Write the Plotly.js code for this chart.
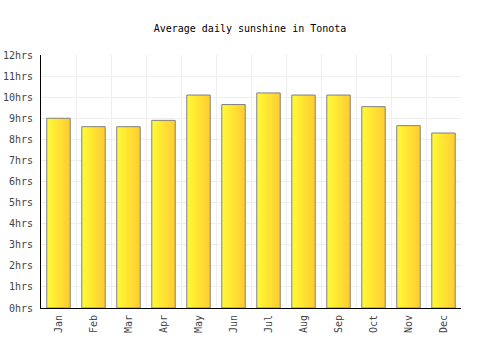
<!DOCTYPE html>
<html>
<head>
<meta charset="utf-8">
<script src="https://cdn.plot.ly/plotly-3.0.1.min.js"></script>
<style>
html,body{margin:0;padding:0;background:#fff;}
#chart{width:500px;height:350px;}
</style>
</head>
<body>
<div id="chart"></div>
<script>
var months = ["Jan","Feb","Mar","Apr","May","Jun","Jul","Aug","Sep","Oct","Nov","Dec"];
var sunshineHours = [9.0, 8.6, 8.6, 8.9, 10.1, 9.65, 10.2, 10.1, 10.1, 9.55, 8.65, 8.3];
var yTickValues = [0,1,2,3,4,5,6,7,8,9,10,11,12];

var font = "'DejaVu Sans Mono', monospace";

var trace = {
  type: "bar",
  x: months,
  y: sunshineHours,
  marker: {color: "#ffe033", line: {color: "#808080", width: 1}},
  hoverinfo: "none"
};

var layout = {
  width: 500,
  height: 350,
  margin: {l: 41, r: 39, t: 55, b: 42},
  paper_bgcolor: "#fff",
  plot_bgcolor: "#fff",
  bargap: 0.33,
  showlegend: false,
  title: {text: "Average daily sunshine in Tonota", font: {family: font, size: 10, color: "#000"}, x: 0.5, xanchor: "center", y: 0.92, yanchor: "middle"},
  xaxis: {
    type: "category",
    tickson: "boundaries",
    showgrid: true,
    gridcolor: "#eeeeee",
    gridwidth: 1,
    showline: true,
    linecolor: "#000",
    linewidth: 1,
    ticks: "",
    tickangle: -90,
    ticklabelstandoff: 2,
    tickfont: {family: font, size: 10, color: "#444"},
    fixedrange: true
  },
  yaxis: {
    range: [0, 12],
    tickvals: yTickValues,
    ticktext: yTickValues.map(function(v){return v + "hrs";}),
    showgrid: true,
    gridcolor: "#eeeeee",
    gridwidth: 1,
    zeroline: false,
    showline: true,
    linecolor: "#000",
    linewidth: 1,
    ticks: "",
    ticklabelstandoff: 5,
    tickfont: {family: font, size: 10, color: "#444"},
    fixedrange: true
  }
};

Plotly.newPlot("chart", [trace], layout, {displayModeBar: false, staticPlot: true}).then(function(gd){
  var svg = gd.querySelector("svg.main-svg");
  var ns = "http://www.w3.org/2000/svg";
  var defs = svg.querySelector("defs") || svg.insertBefore(document.createElementNS(ns, "defs"), svg.firstChild);
  var grad = document.createElementNS(ns, "linearGradient");
  grad.setAttribute("id", "barGrad");
  grad.setAttribute("x1", "0"); grad.setAttribute("y1", "0");
  grad.setAttribute("x2", "1"); grad.setAttribute("y2", "0");
  var s1 = document.createElementNS(ns, "stop");
  s1.setAttribute("offset", "0"); s1.setAttribute("stop-color", "#fffb33");
  var s2 = document.createElementNS(ns, "stop");
  s2.setAttribute("offset", "1"); s2.setAttribute("stop-color", "#ffcb33");
  grad.appendChild(s1); grad.appendChild(s2);
  defs.appendChild(grad);
  gd.querySelectorAll(".bars .point path").forEach(function(p){
    p.style.fill = "url(#barGrad)";
    p.style.fillOpacity = 1;
  });
});
</script>
</body>
</html>
